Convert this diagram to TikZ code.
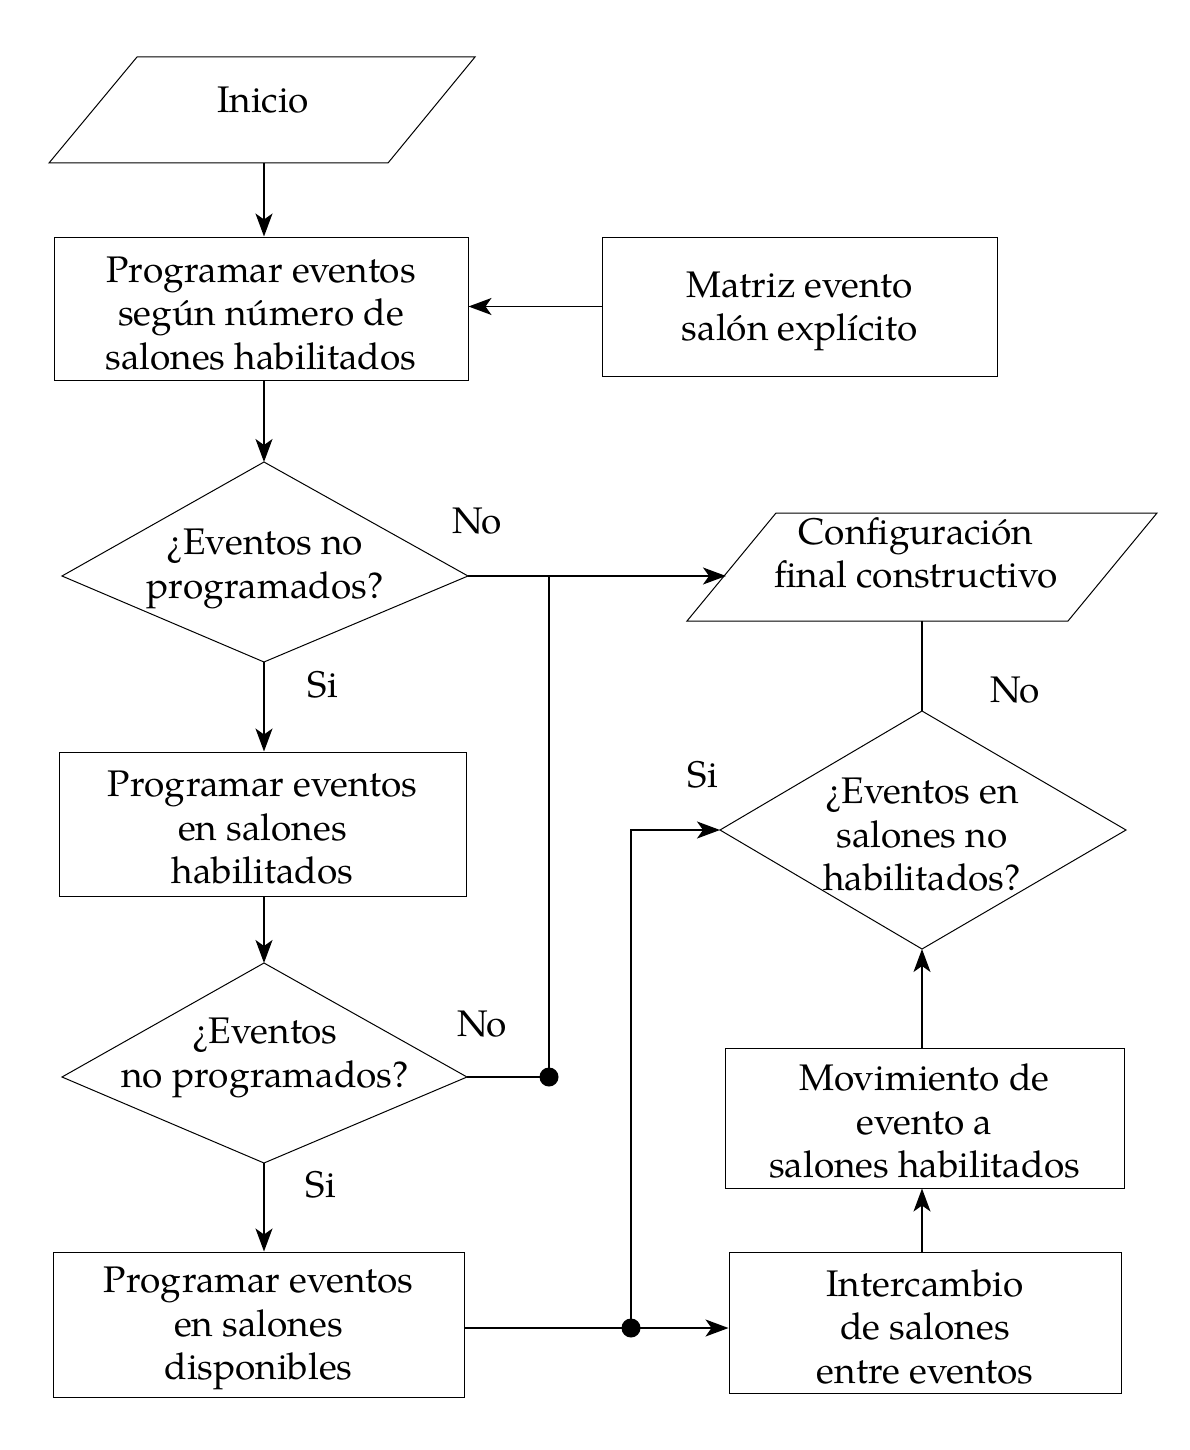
\documentclass[tikz,border=0pt]{standalone}
\usepackage{fontspec}
\setmainfont{TeX Gyre Pagella}
\usetikzlibrary{arrows.meta}
\begin{document}
\begin{tikzpicture}[x=1pt,y=-1pt,
  txt/.style={align=center, inner sep=0pt, font=\fontsize{37}{43.5}\selectfont},
  box/.style={draw, line width=1pt, inner sep=0pt},
  shapeline/.style={line width=1pt},
  conn/.style={line width=1.5pt},
  arr/.style={conn, -{Stealth[length=23pt, width=17pt, inset=6pt]}},
  dotmark/.style={fill=black}
]
\useasboundingbox (0,0) rectangle (1190,1450);

% ---- Inicio parallelogram
\coordinate (p1a) at (137,57);
\coordinate (p1b) at (475,57);
\coordinate (p1c) at (388,163);
\coordinate (p1d) at (49,163);
\draw[shapeline] (p1a) -- (p1b) -- (p1c) -- (p1d) -- cycle;
\node[txt] (inicio) at (263,100) {Inicio};
\coordinate (p1out) at (264,163);

% ---- boxes (outline + text)
\node[box, minimum width=414pt, minimum height=143pt] (b1) at (261,308.5) {};
\node[txt] (b1t) at ([yshift=-5pt]b1.center) {Programar eventos\\según número de\\salones habilitados};
\node[box, minimum width=395pt, minimum height=139pt] (matriz) at (799.5,306.5) {};
\node[txt] (matrizt) at ([yshift=-5pt]matriz.center) {Matriz evento\\salón explícito};
\node[box, minimum width=407pt, minimum height=144pt] (b2) at (262.5,824) {};
\node[txt] (b2t) at ([yshift=-4pt]b2.center) {Programar eventos\\en salones\\habilitados};
\node[box, minimum width=411pt, minimum height=145pt] (b3) at (258.5,1324.5) {};
\node[txt] (b3t) at ([yshift=-4pt]b3.center) {Programar eventos\\en salones\\disponibles};
\node[box, minimum width=392pt, minimum height=141pt] (inter) at (925,1322.5) {};
\node[txt] (intert) at ([yshift=-4pt]inter.center) {Intercambio\\de salones\\entre eventos};
\node[box, minimum width=399pt, minimum height=140pt] (mov) at (924.5,1118) {};
\node[txt] (movt) at ([yshift=-3pt]mov.center) {Movimiento de\\evento a\\salones habilitados};

% ---- diamond 1
\coordinate (d1t) at (264,462);
\coordinate (d1l) at (62,576);
\coordinate (d1r) at (468,576);
\coordinate (d1b) at (264,662);
\draw[shapeline] (d1t) -- (d1r) -- (d1b) -- (d1l) -- cycle;
\node[txt] (d1txt) at (265,569) {¿Eventos no\\programados?};

% ---- diamond 2
\coordinate (d2t) at (264,963);
\coordinate (d2l) at (62,1077);
\coordinate (d2r) at (467,1077);
\coordinate (d2b) at (264,1163);
\draw[shapeline] (d2t) -- (d2r) -- (d2b) -- (d2l) -- cycle;
\node[txt] (d2txt) at (265,1058) {¿Eventos\\no programados?};

% ---- diamond 3
\coordinate (d3t) at (922,711);
\coordinate (d3l) at (720,830);
\coordinate (d3r) at (1126,830);
\coordinate (d3b) at (922,949);
\draw[shapeline] (d3t) -- (d3r) -- (d3b) -- (d3l) -- cycle;
\node[txt] (d3txt) at (922,835) {¿Eventos en\\salones no\\habilitados?};

% ---- final parallelogram
\coordinate (p2a) at (776,513);
\coordinate (p2b) at (1157,513);
\coordinate (p2c) at (1068,621);
\coordinate (p2d) at (687,621);
\draw[shapeline] (p2a) -- (p2b) -- (p2c) -- (p2d) -- cycle;
\node[txt] (final) at (916,553) {Configuración\\final constructivo};
\coordinate (p2in) at (726,576);
\coordinate (p2out) at (922,621);

% ---- junctions
\coordinate (j1) at (549,576);
\coordinate (dot1) at (549,1077);
\coordinate (dot2) at (631,1328);
\coordinate (j2) at (631,830);
\coordinate (colL) at (264,0);
\coordinate (colR) at (922,0);

% ---- connectors
\draw[arr] (p1out) -- (b1.north -| colL);
\draw[arr] (matriz.west) -- (b1.east |- matriz.west);
\draw[arr] (b1.south -| colL) -- (d1t);
\draw[arr] (d1b) -- (b2.north -| colL);
\draw[arr] (b2.south -| colL) -- (d2t);
\draw[arr] (d2b) -- (b3.north -| colL);
\draw[arr] (d1r) -- (p2in);
\draw[conn] (j1) -- (dot1);
\draw[conn] (d2r) -- (dot1);
\fill[dotmark] (dot1) circle (9.5pt);
\draw[arr] (b3.east |- dot2) -- (inter.west |- dot2);
\draw[arr] (dot2) -- (j2) -- (d3l);
\fill[dotmark] (dot2) circle (9.5pt);
\draw[arr] (inter.north -| colR) -- (mov.south -| colR);
\draw[arr] (mov.north -| colR) -- (d3b);
\draw[conn] (p2out) -- (d3t);

% ---- labels
\node[txt] (no1) at (477,521) {No};
\node[txt] (si1) at (323,685) {Si};
\node[txt] (no2) at (482,1024) {No};
\node[txt] (si2) at (321,1185) {Si};
\node[txt] (no3) at (1015,690) {No};
\node[txt] (si3) at (703,775) {Si};
\end{tikzpicture}
\end{document}
